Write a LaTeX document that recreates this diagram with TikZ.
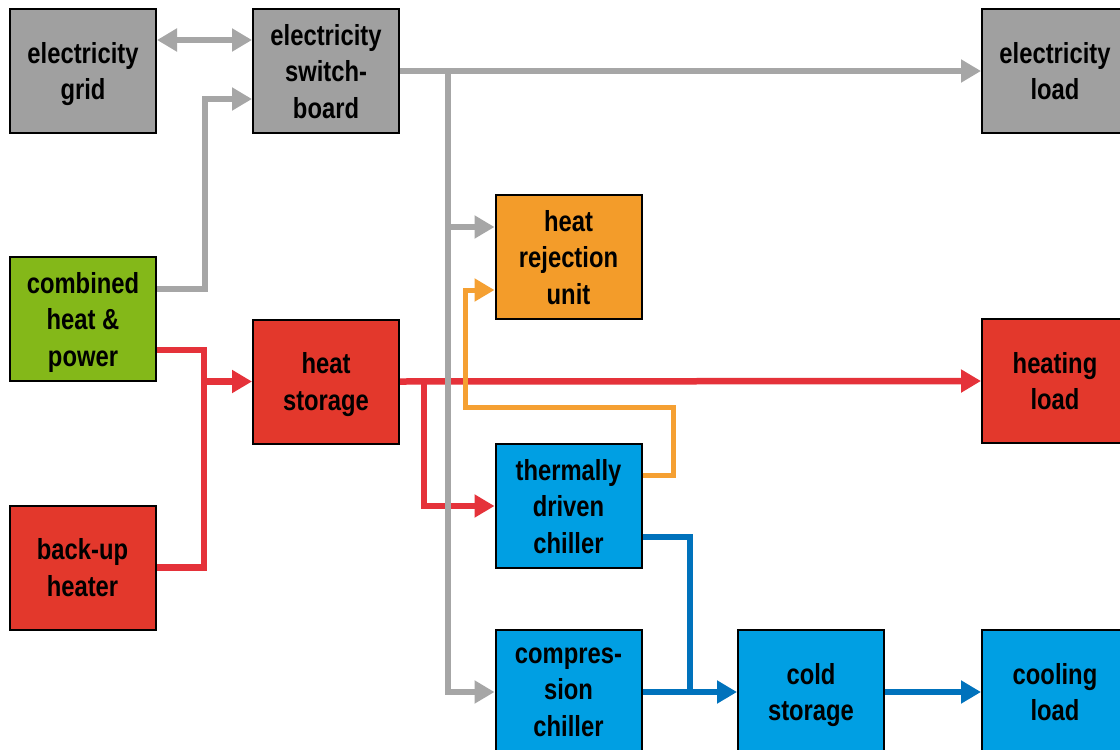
\documentclass[tikz,border=0pt]{standalone}
\usepackage{fontspec}
\setmainfont{Liberation Sans}[FakeStretch=0.82]
\usetikzlibrary{arrows.meta,calc}
\definecolor{boxgray}{RGB}{160,160,160}
\definecolor{linegray}{RGB}{166,166,166}
\definecolor{chpgreen}{RGB}{132,184,25}
\definecolor{boxred}{RGB}{227,56,44}
\definecolor{linered}{RGB}{229,50,58}
\definecolor{boxorange}{RGB}{243,156,42}
\definecolor{lineorange}{RGB}{245,160,50}
\definecolor{boxblue}{RGB}{0,159,227}
\definecolor{lineblue}{RGB}{0,114,188}
\tikzset{
  blk/.style={draw=black, line width=2pt, minimum width=146pt, minimum height=124pt,
    align=center, inner sep=0pt, text depth=0pt, font=\fontsize{29}{36.5}\selectfont\bfseries},
  tip/.style={-{Triangle[length=20pt,width=22pt]}},
  gl/.style={draw=linegray, line width=6pt},
  rl/.style={draw=linered, line width=6.5pt},
  ol/.style={draw=lineorange, line width=5pt},
  bl/.style={draw=lineblue, line width=6pt},
}
\begin{document}
\begin{tikzpicture}[x=1pt,y=-1pt]
\useasboundingbox (0,0) rectangle (1120,750);
\clip (0,0) rectangle (1120,750);
\fill[white] (0,0) rectangle (1120,750);
% nodes
\node[blk, fill=boxgray] (grid) at (83,71) {electricity\\grid};
\node[blk, fill=boxgray] (sw) at (326,71) {electricity\\switch-\\board};
\node[blk, fill=boxgray] (eload) at (1055,71) {electricity\\load};
\node[blk, fill=chpgreen] (chp) at (83,319) {combined\\heat \&\\power};
\node[blk, fill=boxred] (hs) at (326,381.5) {heat\\storage};
\node[blk, fill=boxred] (bu) at (82.5,567.5) {back-up\\heater};
\node[blk, fill=boxorange] (hr) at (568.5,257) {heat\\rejection\\unit};
\node[blk, fill=boxred] (hl) at (1055,381) {heating\\load};
\node[blk, fill=boxblue] (tdc) at (568.5,506) {thermally\\driven\\chiller};
\node[blk, fill=boxblue] (cc) at (568.5,692) {compres-\\sion\\chiller};
\node[blk, fill=boxblue] (cs) at (811,692) {cold\\storage};
\node[blk, fill=boxblue] (cl) at (1055,692) {cooling\\load};
% junctions
\coordinate (rj1) at (204,350);
\coordinate (rj2) at (204,381.5);
\coordinate (rj3) at (424,381);
\coordinate (gj1) at (205,289);
\coordinate (gj1b) at (205,99);
\coordinate (gj2) at (448,71);
\coordinate (gj3) at (448,227);
\coordinate (oj1) at (673,475);
\coordinate (oj2) at (673,407);
\coordinate (oj3) at (465,407);
\coordinate (oj4) at (465,290);
\coordinate (bj1) at (690,537);
\coordinate (bj2) at (690,692);
% red
\draw[rl] ($(chp.east)+(0,31)$) -- (rj1) -- (rj1 |- bu.east) -- (bu.east);
\draw[rl,tip] (rj2) -- (hs.west);
\draw[rl,tip] (hs.east) -- (hl.west);
\draw[rl,tip] (rj3) -- (rj3 |- tdc.west) -- (tdc.west);
% gray
\draw[gl,{Triangle[length=20pt,width=22pt]}-{Triangle[length=20pt,width=22pt]}] ($(grid.east)+(0,-31)$) -- ($(sw.west)+(0,-31)$);
\draw[gl,tip] ($(chp.east)+(0,-30)$) -- (gj1) -- (gj1b) -- ($(sw.west)+(0,28)$);
\draw[gl,tip] (sw.east) -- (eload.west);
\draw[gl,tip] (gj2) -- (gj2 |- cc.west) -- (cc.west);
\draw[gl,tip] (gj3) -- ($(hr.west)+(0,-30)$);
% orange
\draw[ol,tip] ($(tdc.east)+(0,-31)$) -- (oj1) -- (oj2) -- (oj3) -- (oj4) -- ($(hr.west)+(0,33)$);
% blue
\draw[bl] ($(tdc.east)+(0,31)$) -- (bj1) -- (bj2);
\draw[bl,tip] (cc.east) -- (cs.west);
\draw[bl,tip] (cs.east) -- (cl.west);
\end{tikzpicture}
\end{document}
